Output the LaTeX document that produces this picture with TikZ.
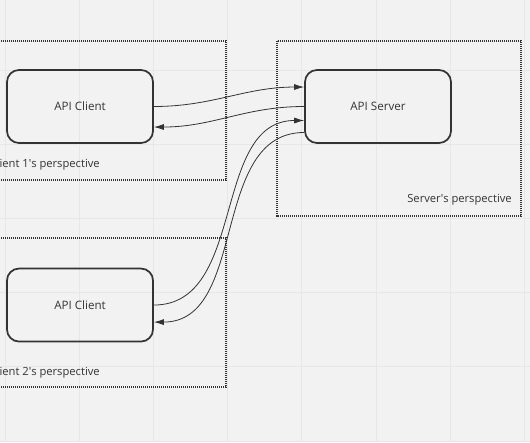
\documentclass[tikz,border=0pt]{standalone}
\usepackage{fontspec}
\setmainfont{Open Sans}
\usepackage{xcolor}
\usetikzlibrary{positioning}
\usetikzlibrary{arrows.meta}

\definecolor{canvas}{HTML}{F2F2F2}
\definecolor{gridgray}{HTML}{E7E7E7}
\definecolor{inkgray}{HTML}{333333}

\begin{document}
\begin{tikzpicture}[x=0.75pt, y=-0.75pt, >={Latex[length=7.5pt,width=4.5pt]}, node distance=2cm, on grid,
  apibox/.style={draw=inkgray, line width=1.3pt, rounded corners=9pt, minimum width=109.5pt, minimum height=54.75pt, font=\fontsize{8.7}{10}\selectfont, text=inkgray},
  frame/.style={draw=inkgray, line width=0.9pt, dash pattern=on 0.8pt off 0.7pt},
  persp/.style={font=\fontsize{8.4}{10}\selectfont, text=inkgray, inner sep=0pt},
  link/.style={->, draw=inkgray, line width=0.6pt}]
  \useasboundingbox (0,0) rectangle (530,442);
  \fill[canvas] (0,0) rectangle (530,442);
  \clip (0,0) rectangle (530,442);

  % background grid
  \foreach \i in {0,...,7}
    \draw[gridgray, line width=0.7pt] ({5+74.2*\i},0) -- ++(0,442);
  \foreach \i in {0,...,5}
    \draw[gridgray, line width=0.7pt] (0,{70+74.2*\i}) -- ++(530,0);

  % perspective frames
  \draw[frame] (-10,41) rectangle (226,180);
  \draw[frame] (277,41) rectangle (521,216);
  \draw[frame] (-10,238) rectangle (226,387);

  \node[persp, anchor=east] (p1) at (100,165) {Client 1\textquotesingle s perspective};
  \node[persp, anchor=east] (ps) at (512,200) {Server\textquotesingle s perspective};
  \node[persp, anchor=east] (p2) at (100,373) {Client 2\textquotesingle s perspective};

  \node[apibox] (C1) at (80,106.5) {API Client};
  \node[apibox] (S) [right=223.5pt of C1] {API Server};
  \node[apibox] (C2) [below=148.9pt of C1] {API Client};

  \draw[link] (C1.east) to[out=0, in=180] ([yshift=14.6pt]S.west);
  \draw[link] (S.west) to[out=180, in=0] ([yshift=-15.4pt]C1.east);
  \draw[link] (C2.east) to[out=0, in=180] ([yshift=-10.5pt]S.west);
  \draw[link] ([yshift=-19.5pt]S.west) to[out=180, in=0] ([yshift=-12.8pt]C2.east);
\end{tikzpicture}
\end{document}
